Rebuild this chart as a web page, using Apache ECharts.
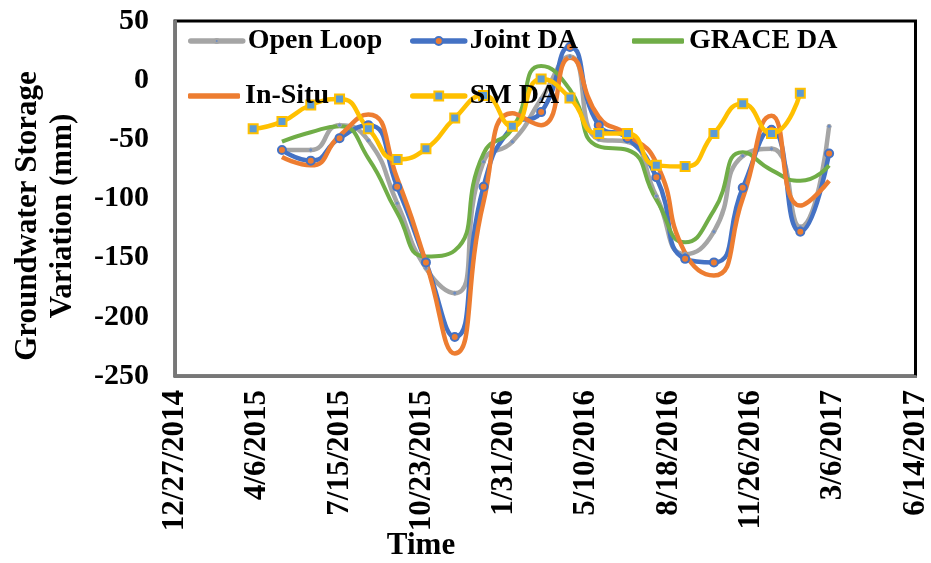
<!DOCTYPE html>
<html>
<head>
<meta charset="utf-8">
<script src="https://cdn.jsdelivr.net/npm/echarts@6/dist/echarts.min.js"></script>
<style>
html,body{margin:0;padding:0;background:#fff;}
#chart{width:931px;height:563px;}
</style>
</head>
<body>
<div id="chart"></div>
<script>
// ---- Data ----
const dates = ['2015-04-01','2015-05-06','2015-06-10','2015-07-15','2015-08-19','2015-09-23','2015-10-28',
  '2015-12-02','2016-01-06','2016-02-10','2016-03-16','2016-04-20','2016-05-25','2016-06-29',
  '2016-08-03','2016-09-07','2016-10-12','2016-11-16','2016-12-21','2017-01-25','2017-03-01'];
const openLoop = [null,-59,-59,-38,-51,-104,-159,-180,-69,-52,-16,20,-50,-52,-98,-147,-128,-64,-58,-124,-39];
const jointDA  = [null,-59,-68,-49,-38,-90,-154,-217,-90,-39,-27,28,-38,-49,-82,-151,-154,-91,-42,-128,-62];
const graceDA  = [null,-52,-44,-39,-66,-112,-149,-144,-62,-41,12,-8,-56,-59,-101,-137,-110,-61,-76,-85,-72];
const inSitu   = [null,-65,-72,-47,-29,-83,-154,-231,-103,-28,-38,19,-31,-46,-70,-146,-165,-100,-30,-106,-85];
const smDA     = [-41,-35,-21,-16,-41,-67,-58,-32,-13,-39,1,-15,-45,-45,-72,-73,-45,-20,-45,-11,null];
const tickLabels = ['12/27/2014','4/6/2015','7/15/2015','10/23/2015','1/31/2016','5/10/2016',
  '8/18/2016','11/26/2016','3/6/2017','6/14/2017'];
const axisStart = '2014-12-27';

// ---- helpers ----
const DAY = 86400000;
function dayOffset(s){ return Math.round((Date.parse(s) - Date.parse(axisStart)) / DAY); }
function pairs(vals){
  const out = [];
  vals.forEach((v,i)=>{ if(v!==null) out.push([dayOffset(dates[i]), v]); });
  return out;
}
const FONT = "'Times New Roman','Liberation Serif',serif";

const chart = echarts.init(document.getElementById('chart'));
const legendText = {fontFamily: FONT, fontWeight: 'bold', fontSize: 28, color: '#000', lineHeight: 30};
function legend(name, left, top, itemHeight, icon){
  const item = icon ? {name:name, icon:icon} : {name:name};
  return {orient:'horizontal', left:left, top:top, padding:0, itemWidth:52, itemHeight:itemHeight,
    data:[item], textStyle:legendText, selectedMode:false, lineStyle:{width:5.5, cap:'round'}};
}
chart.setOption({
  animation:false,
  backgroundColor:'#fff',
  grid:{left:175, right:13, top:21, bottom:187, show:true, borderColor:'#000', borderWidth:3, containLabel:false},
  legend:[
    legend('Open Loop',188,26,5),
    legend('In-Situ',188,81,5.5,'roundRect'),
    legend('Joint DA',410,26,10),
    legend('SM DA',410,81,11),
    legend('GRACE DA',632,26,5.5,'roundRect')
  ],
  xAxis:{type:'value', min:0, max:900, interval:100,
    axisLine:{show:true, onZero:false, lineStyle:{color:'#777', width:3}},
    axisTick:{show:false}, splitLine:{show:false},
    axisLabel:{rotate:90, margin:14, fontFamily:FONT, fontWeight:'bold', fontSize:31, color:'#000',
      formatter:(v)=>tickLabels[Math.round(v/100)] || ''}},
  yAxis:{type:'value', min:-250, max:50, interval:50,
    axisLine:{show:true, onZero:false, lineStyle:{color:'#777', width:3}},
    axisTick:{show:false}, splitLine:{show:false},
    axisLabel:{margin:26, fontFamily:FONT, fontWeight:'bold', fontSize:30, color:'#000'}},
  graphic:[
    {type:'text', x:421, y:546, style:{text:'Time', font:"bold 31px "+FONT, fill:'#000', align:'center', verticalAlign:'middle'}},
    {type:'text', x:45, y:216, rotation:Math.PI/2,
      style:{text:'Groundwater Storage\nVariation (mm)', font:"bold 31px "+FONT, lineHeight:35, fill:'#000', align:'center', verticalAlign:'middle'}}
  ],
  series:[
    {name:'Open Loop', type:'line', smooth:0.55, data:pairs(openLoop), symbol:'circle', symbolSize:4,
      color:'#A5A5A5', itemStyle:{color:'#6a8cc4', borderColor:'#A5A5A5', borderWidth:1}, lineStyle:{color:'#A5A5A5', width:4.5}},
    {name:'Joint DA', type:'line', smooth:0.55, data:pairs(jointDA), symbol:'circle', symbolSize:8,
      color:'#4472C4', itemStyle:{color:'#ED7D31', borderColor:'#4472C4', borderWidth:2}, lineStyle:{color:'#4472C4', width:4.5}},
    {name:'GRACE DA', type:'line', smooth:0.55, data:pairs(graceDA), symbol:'none',
      color:'#70AD47', itemStyle:{color:'#70AD47'}, lineStyle:{color:'#70AD47', width:4}},
    {name:'In-Situ', type:'line', smooth:0.55, data:pairs(inSitu), symbol:'none',
      color:'#ED7D31', itemStyle:{color:'#ED7D31'}, lineStyle:{color:'#ED7D31', width:4.5}},
    {name:'SM DA', type:'line', smooth:0.55, data:pairs(smDA), symbol:'rect', symbolSize:9,
      color:'#FFC000', itemStyle:{color:'#5B9BD5', borderColor:'#FFC000', borderWidth:2}, lineStyle:{color:'#FFC000', width:4.5}}
  ]
});
</script>
</body>
</html>
